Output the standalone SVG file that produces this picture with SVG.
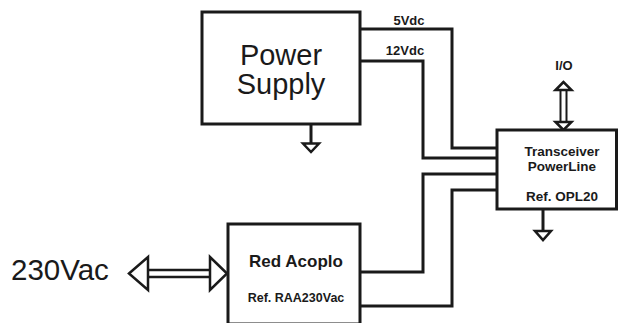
<svg xmlns="http://www.w3.org/2000/svg" width="619" height="323" viewBox="0 0 619 323">
<style>
.box{fill:#fff;stroke:#1a1a1a;stroke-width:3}
.wire{fill:none;stroke:#1a1a1a;stroke-width:3;stroke-linejoin:miter}
.head{fill:#fff;stroke:#1a1a1a;stroke-width:2.5;stroke-linejoin:miter}
.gnd{fill:#fff;stroke:#1a1a1a;stroke-width:2.5}
.big{font-family:"Liberation Sans",Arial,sans-serif;fill:#1a1a1a}
.lbl{font-family:"Liberation Sans",Arial,sans-serif;font-weight:bold;fill:#1a1a1a}
</style>
<rect width="619" height="323" fill="#fff"/>
<g id="connectors">
  <path class="wire" d="M360 29 H452 V148 H497"/>
  <path class="wire" d="M360 61 H423 V158 H497"/>
  <path class="wire" d="M497 174 H423 V272 H360"/>
  <path class="wire" d="M497 190 H452 V306 H360"/>
  <text class="lbl" x="409" y="25" font-size="13" text-anchor="middle">5Vdc</text>
  <text class="lbl" x="405" y="55" font-size="13" text-anchor="middle">12Vdc</text>
  <g id="io-arrow">
    <line x1="560.5" y1="89" x2="560.5" y2="122" stroke="#1a1a1a" stroke-width="2"/>
    <line x1="566.5" y1="89" x2="566.5" y2="122" stroke="#1a1a1a" stroke-width="2"/>
    <polygon class="head" points="563.5,82 555.5,90 571.5,90"/>
    <polygon class="head" points="563.5,130 555.5,122 571.5,122"/>
    <text class="lbl" x="564" y="70" font-size="13" text-anchor="middle">I/O</text>
  </g>
  <g id="ac-arrow">
    <line x1="147" y1="270" x2="210" y2="270" stroke="#1a1a1a" stroke-width="2.5"/>
    <line x1="147" y1="277" x2="210" y2="277" stroke="#1a1a1a" stroke-width="2.5"/>
    <polygon class="head" points="129,273.5 148,257 148,290"/>
    <polygon class="head" points="227,273.5 210,257 210,290"/>
    <text class="big" x="11" y="280" font-size="29.5">230Vac</text>
  </g>
</g>
<g id="power-supply">
  <rect class="box" x="202" y="12" width="158" height="112"/>
  <text class="big" x="281" y="65" font-size="29" text-anchor="middle">Power</text>
  <text class="big" x="281" y="94" font-size="29" text-anchor="middle">Supply</text>
  <line x1="311" y1="124" x2="311" y2="143" stroke="#1a1a1a" stroke-width="3"/>
  <polygon class="gnd" points="303,143.5 319,143.5 311,152"/>
</g>
<g id="transceiver">
  <rect class="box" x="497" y="130" width="119.5" height="79"/>
  <text class="lbl" x="562" y="156" font-size="13.5" text-anchor="middle">Transceiver</text>
  <text class="lbl" x="562" y="171" font-size="13.5" text-anchor="middle">PowerLine</text>
  <text class="lbl" x="562" y="201" font-size="13.5" text-anchor="middle">Ref. OPL20</text>
  <line x1="543" y1="209" x2="543" y2="230" stroke="#1a1a1a" stroke-width="3"/>
  <polygon class="gnd" points="535,231 551,231 543,240"/>
</g>
<g id="red-acoplo">
  <rect class="box" x="228" y="224" width="132" height="100"/>
  <text class="lbl" x="296" y="267" font-size="17" text-anchor="middle">Red Acoplo</text>
  <text class="lbl" x="296" y="302" font-size="12.5" text-anchor="middle">Ref. RAA230Vac</text>
</g>
</svg>
